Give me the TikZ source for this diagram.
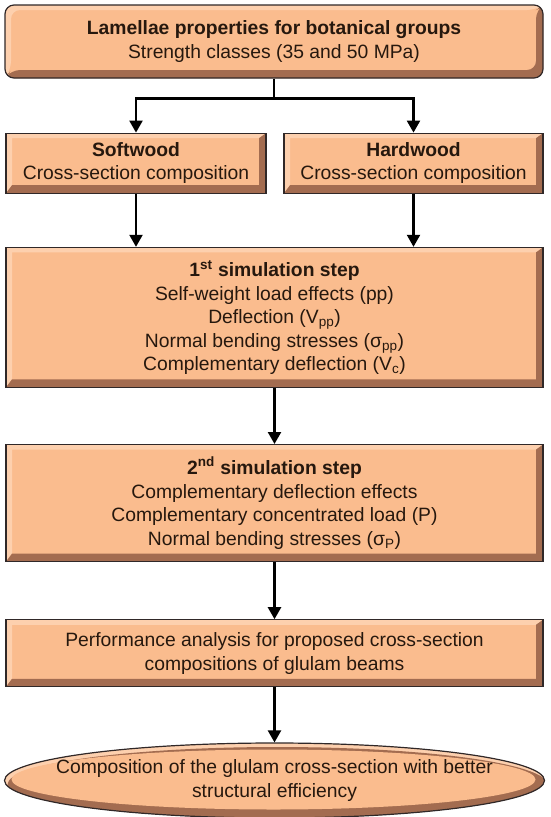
\documentclass[tikz,border=0pt]{standalone}
\usepackage{fontspec}
\setmainfont{Liberation Sans}
\usetikzlibrary{positioning,shapes.geometric,arrows.meta}
\definecolor{face}{RGB}{250,188,142}
\definecolor{bevdark}{RGB}{163,108,80}
\definecolor{bevlight}{RGB}{253,208,174}
\definecolor{edge}{RGB}{48,40,40}
\definecolor{ink}{RGB}{38,24,14}

\begin{document}
\begin{tikzpicture}[x=1pt,y=1pt,thick,>={Triangle[length=12pt,width=13pt]},
  bevel/.style={path picture={
      \coordinate (bl) at (path picture bounding box.south west);
      \coordinate (tr) at (path picture bounding box.north east);
      \coordinate (tl) at (bl |- tr);
      \coordinate (br) at (bl -| tr);
      \fill[bevlight] (bl) -- (tl) -- (tr) -- ([shift={(-7pt,-5pt)}]tr)
        -- ([shift={(6pt,-5pt)}]tl) -- ([shift={(6pt,8pt)}]bl) -- cycle;
      \fill[bevdark] (bl) -- (br) -- (tr) -- ([shift={(-7pt,-5pt)}]tr)
        -- ([shift={(-7pt,8pt)}]br) -- ([shift={(6pt,8pt)}]bl) -- cycle;}},
  ovalbevel/.style={path picture={
      \fill[bevlight] (path picture bounding box.south west) rectangle (path picture bounding box.north east);
      \fill[bevdark] ([shift={(3pt,-4pt)}]path picture bounding box.center) ellipse [x radius=270pt, y radius=37.5pt];
      \fill[face] ([shift={(-1pt,1pt)}]path picture bounding box.center) ellipse [x radius=262pt, y radius=30pt];}},
  box/.style={rectangle,draw=edge,line width=1.2pt,fill=face,bevel,text=ink,
    align=center,inner sep=0pt,font=\fontsize{19.3}{23.5}\selectfont},
  oval/.style={ellipse,draw=edge,line width=1.2pt,fill=face,ovalbevel,text=ink,
    align=center,inner xsep=-70pt,inner ysep=0pt,font=\fontsize{19.3}{23.5}\selectfont,
    minimum width=540pt,minimum height=75pt},
  link/.style={line width=2.3pt,->}]
  \useasboundingbox (0,0) rectangle (550,-817);

  \node[box,rounded corners=9pt,minimum width=538pt,minimum height=73pt] (top) at (274,-41.5)
    {\textbf{Lamellae properties for botanical groups}\\Strength classes (35 and 50 MPa)};
  \node[box,minimum width=260pt,minimum height=60pt] (soft) [below right=54pt and 1pt of top.south west]
    {\textbf{Softwood}\\Cross-section composition};
  \node[box,minimum width=259pt,minimum height=60pt] (hard) [below left=54pt and 0pt of top.south east]
    {\textbf{Hardwood}\\Cross-section composition};
  \node[box,minimum width=537pt,minimum height=140pt] (step1) [below right=53pt and 0pt of soft.south west]
    {\textbf{1\textsuperscript{st} simulation step}\\Self-weight load effects (pp)\\Deflection (V\textsubscript{pp})\\
     Normal bending stresses (σ\textsubscript{pp})\\Complementary deflection (V\textsubscript{c})};
  \node[box,minimum width=537pt,minimum height=117pt] (step2) [below=56pt of step1]
    {\textbf{2\textsuperscript{nd} simulation step}\\Complementary deflection effects\\
     Complementary concentrated load (P)\\Normal bending stresses (σ\textsubscript{P})};
  \node[box,minimum width=537pt,minimum height=67pt] (perf) [below=57pt of step2]
    {Performance analysis for proposed cross-section\\compositions of glulam beams};
  \node[oval] (final) [below=55pt of perf]
    {Composition of the glulam cross-section with better\\structural efficiency};

  \coordinate (fork) at ([yshift=-20pt]top.south);
  \draw[line width=2.3pt] (top.south) -- (fork);
  \draw[link] (fork) -| (soft.north);
  \draw[link] (fork) -| (hard.north);
  \draw[link] (soft.south) -- (soft.south |- step1.north);
  \draw[link] (hard.south) -- (hard.south |- step1.north);
  \draw[link] (step1) -- (step2);
  \draw[link] (step2) -- (perf);
  \draw[link] (perf) -- (final);
\end{tikzpicture}
\end{document}
